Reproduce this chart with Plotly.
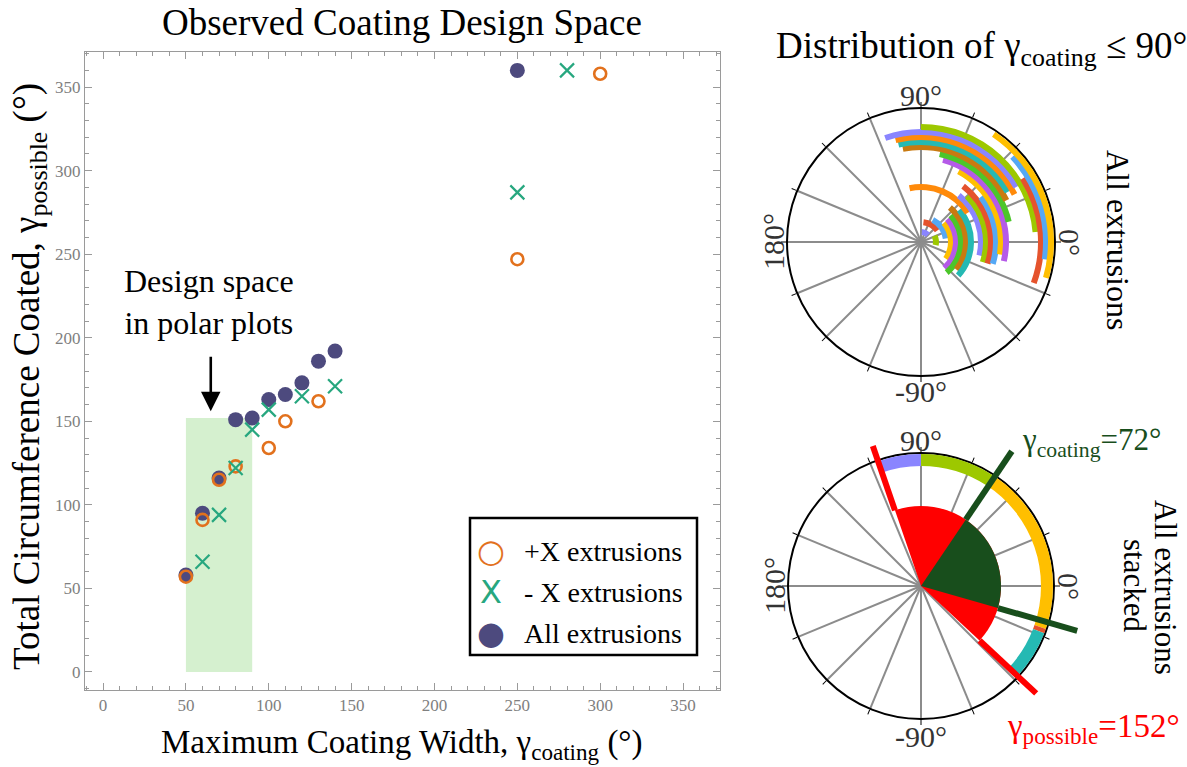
import plotly.graph_objects as go

W, H = 1187, 767
SERIF = "Liberation Serif, Times New Roman, serif"

# ---- Scatter data: maximum coating width vs. total circumference coated ----
plus_x_width = [50, 60, 70, 80, 100, 110, 130, 250, 300]
plus_x_total = [57, 91, 115, 123, 134, 150, 162, 247, 358]
minus_x_width = [60, 70, 80, 90, 100, 120, 140, 250, 280]
minus_x_total = [66, 94, 122, 145, 157, 165, 171, 287, 360]
all_width = [50, 60, 70, 80, 90, 100, 110, 120, 130, 140, 250]
all_total = [58, 95, 116, 151, 152, 163, 166, 173, 186, 192, 360]

# design space shown in the polar plots
design_width = [50, 90]
design_total = [0, 152]

# ---- Coated arcs of each extrusion (inner ring to outer ring), degrees ----
arc_ring = list(range(2, 27))
arc_start = [45, -12, 35, 8, -34, -48, -50, -38, -42, 32, -13, -18, -18, -17, -9,
             -13, 13, 26, 30, 27, 30, 5, -20, -8, -16]
arc_end = [85, 25, 83, 62, 40, 41, 42, 50, 40, 102, 51, 45, 53, 37, 62,
           75, 78, 101, 103, 104, 109, 90, 32, 43, 56]
palette = ["#8a85ff", "#9dc800", "#e5532d", "#55a8f5", "#ffbf00",
           "#b55ae8", "#4cc62a", "#c97a10", "#25b9b3", "#ff8a0a"]
arc_color = [palette[i % len(palette)] for i in range(len(arc_ring))]

# ---- Stacked coverage (outer ring of the lower polar plot) ----
stack_start = [90, 57, -19, -21, -42, -44]
stack_end = [110, 90, 57, -19, -21, -42]
stack_color = ["#8a85ff", "#9dc800", "#ffbf00", "#e5532d", "#25b9b3", "#4cc62a"]

coating_range = [-16, 56]     # gamma_coating = 72
possible_range = [-43, 109]   # gamma_possible = 152
gamma_coating = coating_range[1] - coating_range[0]
gamma_possible = possible_range[1] - possible_range[0]

fig = go.Figure()

# ---------------- scatter panel ----------------
fig.add_trace(go.Scatter(
    x=all_width, y=all_total, mode="markers", name="All extrusions",
    marker=dict(symbol="circle", size=15, color="#4d4a7e"),
))
fig.add_trace(go.Scatter(
    x=plus_x_width, y=plus_x_total, mode="markers", name="+X extrusions",
    marker=dict(symbol="circle-open", size=12, color="#e2711d", line=dict(width=2.6, color="#e2711d")),
))
fig.add_trace(go.Scatter(
    x=minus_x_width, y=minus_x_total, mode="markers", name="- X extrusions",
    marker=dict(symbol="x-thin-open", size=14, color="#27a77f", line=dict(width=2.2, color="#27a77f")),
))

fig.add_shape(type="rect", xref="x", yref="y",
              x0=design_width[0], x1=design_width[1], y0=design_total[0], y1=design_total[1],
              fillcolor="#d5f0cf", line=dict(width=0), layer="below")

axis_common = dict(
    showline=True, linecolor="#9a9a9a", linewidth=1, mirror="ticks",
    ticks="inside", ticklen=7, tickcolor="#9a9a9a", dtick=50, tick0=0,
    minor=dict(dtick=10, ticks="inside", ticklen=4, tickcolor="#9a9a9a"),
    showgrid=False, zeroline=False,
    tickfont=dict(family=SERIF, size=17, color="#808080"),
)
fig.update_layout(
    xaxis=dict(domain=[85 / W, 720 / W], range=[-10.9, 372.3], **axis_common),
    yaxis=dict(domain=[(H - 690) / H, (H - 52) / H], range=[-10.8, 371], **axis_common),
)

# ---------------- polar panels ----------------
angular_common = dict(
    tickmode="linear", tick0=0, dtick=22.5, showticklabels=False,
    showgrid=True, gridcolor="#8c8c8c", gridwidth=1.5,
    showline=True, linecolor="black", linewidth=2,
    ticks="outside", ticklen=5, tickcolor="black", layer="below traces",
)

def polar_domain(cx, cy, r):
    return dict(x=[(cx - r) / W, (cx + r) / W], y=[(H - cy - r) / H, (H - cy + r) / H])

fig.update_layout(
    polar=dict(domain=polar_domain(921, 242, 134), bgcolor="white",
               radialaxis=dict(visible=False, range=[0, 26.8]),
               angularaxis=angular_common),
    polar2=dict(domain=polar_domain(921, 586, 133), bgcolor="white",
                radialaxis=dict(visible=False, range=[0, 26.6]),
                angularaxis=angular_common),
    polar3=dict(domain=polar_domain(921, 586, 170), bgcolor="rgba(0,0,0,0)",
                radialaxis=dict(visible=False, range=[0, 34]),
                angularaxis=dict(visible=False, showgrid=False, showline=False)),
)

# individual extrusion arcs
fig.add_trace(go.Barpolar(
    subplot="polar",
    theta=[(a + b) / 2 for a, b in zip(arc_start, arc_end)],
    width=[b - a for a, b in zip(arc_start, arc_end)],
    base=[r - 0.6 for r in arc_ring], r=[1.2] * len(arc_ring),
    marker=dict(color=arc_color, line=dict(width=0)),
))

# stacked view: possible wedge, coating wedge, coverage ring
fig.add_trace(go.Barpolar(
    subplot="polar2",
    theta=[sum(possible_range) / 2], width=[gamma_possible], base=[0], r=[16],
    marker=dict(color="#ff0000", line=dict(width=0)),
))
fig.add_trace(go.Barpolar(
    subplot="polar2",
    theta=[sum(coating_range) / 2], width=[gamma_coating], base=[0], r=[16],
    marker=dict(color="#184e1c", line=dict(width=0)),
))
fig.add_trace(go.Barpolar(
    subplot="polar2",
    theta=[(a + b) / 2 for a, b in zip(stack_start, stack_end)],
    width=[b - a for a, b in zip(stack_start, stack_end)],
    base=[24.0] * len(stack_start), r=[2.4] * len(stack_start),
    marker=dict(color=stack_color, line=dict(width=0)),
))

# boundary lines of the two angular spans
for ang, r_out in [(possible_range[1], 29.6), (possible_range[0], 31.5)]:
    fig.add_trace(go.Scatterpolar(subplot="polar3", r=[16, r_out], theta=[ang, ang],
                                  mode="lines", line=dict(color="#ff0000", width=6)))
for ang, r_out in [(coating_range[1], 32.5), (coating_range[0], 32.5)]:
    fig.add_trace(go.Scatterpolar(subplot="polar3", r=[16, r_out], theta=[ang, ang],
                                  mode="lines", line=dict(color="#184e1c", width=6)))

# ---------------- text ----------------
def px(x, y):
    return x / W, (H - y) / H

ann = []

def text(x, y, s, size=26, color="black", angle=0, **kw):
    ax, ay = px(x, y)
    ann.append(dict(x=ax, y=ay, xref="paper", yref="paper", text=s, showarrow=False,
                    textangle=angle, font=dict(family=SERIF, size=size, color=color),
                    xanchor="center", yanchor="middle", **kw))

text(402, 23, "Observed Coating Design Space", size=37)
text(402, 744, "Maximum Coating Width, γ<sub>coating</sub> (°)", size=33)
text(29, 377, "Total Circumference Coated, γ<sub>possible</sub> (°)", size=37, angle=-90)
text(209, 302, "Design space<br>in polar plots", size=32)
text(981, 48, "Distribution of γ<sub>coating</sub> ≤ 90°", size=37)

# angular labels for both polar plots
for cy in (242, 586):
    text(921, cy - 146, "90°", size=30, color="#333333")
    text(921, cy + 150, "-90°", size=30, color="#333333")
    text(774, cy, "180°", size=30, color="#333333", angle=-90)
    text(1069, cy, "0°", size=30, color="#333333", angle=90)

text(1118, 240, "All extrusions", size=32, angle=90)
text(1166, 587, "All extrusions", size=31, angle=90)
text(1135, 585, "stacked", size=31, angle=90)
text(1091, 442, f"γ<sub>coating</sub>={gamma_coating}°", size=31, color="#184e1c")
text(1093, 728, f"γ<sub>possible</sub>={gamma_possible}°", size=33, color="#ff0000")

# arrow pointing at the design space
ann.append(dict(x=65, y=156, xref="x", yref="y", ax=0, ay=-56, text="",
                showarrow=True, arrowhead=2, arrowsize=1.5, arrowwidth=2.6, arrowcolor="black"))

# legend box
fig.add_shape(type="rect", xref="paper", yref="paper",
              x0=470 / W, x1=697 / W, y0=(H - 655) / H, y1=(H - 518) / H,
              line=dict(color="black", width=2.5), fillcolor="white", layer="above")
legend_rows = [("○", "#e2711d", "+X extrusions", 551),
               ("X", "#27a77f", "- X extrusions", 592),
               ("●", "#4d4a7e", "All extrusions", 633)]
for glyph, col, label, y in legend_rows:
    gx, gy = px(491, y)
    ann.append(dict(x=gx, y=gy, xref="paper", yref="paper", text=glyph, showarrow=False,
                    font=dict(family="DejaVu Sans", size=32, color=col),
                    xanchor="center", yanchor="middle"))
    lx, ly = px(522, y)
    ann.append(dict(x=lx, y=ly, xref="paper", yref="paper", text=label, showarrow=False,
                    font=dict(family=SERIF, size=28, color="black"),
                    xanchor="left", yanchor="middle"))

fig.update_layout(
    width=W, height=H, margin=dict(l=0, r=0, t=0, b=0),
    paper_bgcolor="white", plot_bgcolor="white", showlegend=False,
    annotations=ann,
)

fig.write_html("out.html")
